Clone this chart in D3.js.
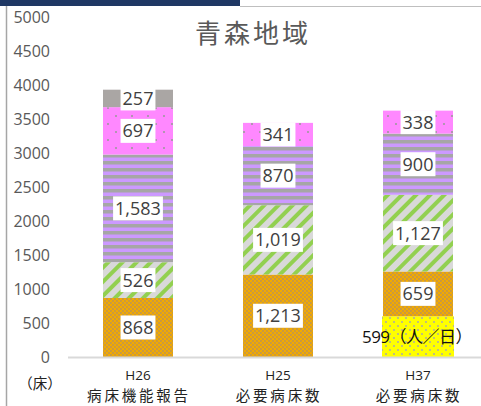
<!DOCTYPE html>
<html>
<head>
<meta charset="utf-8">
<script src="https://cdn.jsdelivr.net/npm/d3@7"></script>
<style>
  body { margin: 0; background: #fff; }
  svg { display: block; font-family: "Open Sans", "Noto Sans CJK JP", sans-serif; }
</style>
</head>
<body>
<svg id="chart" width="481" height="406"></svg>
<script>
// Data
const categories = ["H26|病床機能報告", "H25|必要病床数", "H37|必要病床数"];
const seriesKeys = ["在宅医療等", "慢性期", "回復期", "急性期", "高度急性期", "休棟等"];
const zaitaku = [0, 0, 599];
const manseiki = [868, 1213, 659];
const kaifukuki = [526, 1019, 1127];
const kyuseiki = [1583, 870, 900];
const koudo = [697, 341, 338];
const kyuto = [257, 0, 0];
const yTicks = [0, 500, 1000, 1500, 2000, 2500, 3000, 3500, 4000, 4500, 5000];

const rows = categories.map((c, i) => ({
  cat: c,
  "在宅医療等": zaitaku[i],
  "慢性期": manseiki[i],
  "回復期": kaifukuki[i],
  "急性期": kyuseiki[i],
  "高度急性期": koudo[i],
  "休棟等": kyuto[i],
}));

const svg = d3.select("#chart");

// Patterns for each series
const defs = svg.append("defs");

// orange with dense grey dots
const pOrange = defs.append("pattern").attr("id", "p-orange")
  .attr("patternUnits", "userSpaceOnUse").attr("width", 4).attr("height", 4);
pOrange.append("rect").attr("width", 4).attr("height", 4).attr("fill", "#f2aa00");
pOrange.append("circle").attr("cx", 1).attr("cy", 1).attr("r", 0.9).attr("fill", "#b8925a");
pOrange.append("circle").attr("cx", 3).attr("cy", 3).attr("r", 0.9).attr("fill", "#b8925a");

// green diagonal stripes on light grey
const pGreen = defs.append("pattern").attr("id", "p-green")
  .attr("patternUnits", "userSpaceOnUse").attr("width", 10).attr("height", 10)
  .attr("patternTransform", "rotate(45)");
pGreen.append("rect").attr("width", 10).attr("height", 10).attr("fill", "#d9d9d9");
pGreen.append("rect").attr("x", 0).attr("width", 4).attr("height", 10).attr("fill", "#92d050");

// purple / grey horizontal stripes
const pPurple = defs.append("pattern").attr("id", "p-purple")
  .attr("patternUnits", "userSpaceOnUse").attr("width", 8).attr("height", 7);
pPurple.append("rect").attr("width", 8).attr("height", 7).attr("fill", "#cc99ff");
pPurple.append("rect").attr("y", 0).attr("width", 8).attr("height", 3.5).attr("fill", "#a6a6a6");

// pink with sparse grey dots
const pPink = defs.append("pattern").attr("id", "p-pink")
  .attr("patternUnits", "userSpaceOnUse").attr("width", 16).attr("height", 16);
pPink.append("rect").attr("width", 16).attr("height", 16).attr("fill", "#ff88ff");
pPink.append("circle").attr("cx", 4).attr("cy", 4).attr("r", 1).attr("fill", "#999");
pPink.append("circle").attr("cx", 12).attr("cy", 12).attr("r", 1).attr("fill", "#999");

// yellow with grey dots
const pYellow = defs.append("pattern").attr("id", "p-yellow")
  .attr("patternUnits", "userSpaceOnUse").attr("width", 8).attr("height", 8);
pYellow.append("rect").attr("width", 8).attr("height", 8).attr("fill", "#ffff00");
pYellow.append("circle").attr("cx", 2).attr("cy", 2).attr("r", 1).attr("fill", "#aaa");
pYellow.append("circle").attr("cx", 6).attr("cy", 6).attr("r", 1).attr("fill", "#aaa");

const fillMap = {
  "在宅医療等": "url(#p-yellow)",
  "慢性期": "url(#p-orange)",
  "回復期": "url(#p-green)",
  "急性期": "url(#p-purple)",
  "高度急性期": "url(#p-pink)",
  "休棟等": "#aaa6a4",
};

// frame and top banner
svg.append("rect").attr("x", 0).attr("y", 0).attr("width", 240).attr("height", 6).attr("fill", "#1f3864");
svg.append("line").attr("x1", 240).attr("x2", 481).attr("y1", 6.5).attr("y2", 6.5)
  .attr("stroke", "#bfbfbf").attr("stroke-width", 1);
svg.append("line").attr("x1", 6.5).attr("x2", 6.5).attr("y1", 6).attr("y2", 406)
  .attr("stroke", "#a6a6a6").attr("stroke-width", 1.5);

// scales
const x = d3.scaleBand().domain(categories).range([68, 488]).paddingInner(0.5).paddingOuter(0.25);
const y = d3.scaleLinear().domain([0, 5000]).range([357, 17]);

// title
svg.append("text").attr("x", 253).attr("y", 43).attr("text-anchor", "middle")
  .attr("font-family", "'Noto Sans CJK JP'").attr("font-size", 26).attr("fill", "#595959")
  .attr("letter-spacing", 3)
  .text("青森地域");

// y tick labels
svg.append("g").selectAll("text").data(yTicks).join("text")
  .attr("x", 50).attr("y", (d) => y(d)).attr("dy", "0.35em")
  .attr("text-anchor", "end").attr("font-size", 16).attr("fill", "#595959")
  .text((d) => d);

svg.append("text").attr("x", 40).attr("y", 389).attr("text-anchor", "middle")
  .attr("font-family", "'Noto Sans CJK JP'").attr("font-size", 14.5).attr("fill", "#222")
  .text("（床）");

// stacked bars
const stacked = d3.stack().keys(seriesKeys)(rows);

const layers = svg.append("g").selectAll("g").data(stacked).join("g")
  .attr("fill", (d) => fillMap[d.key]);

layers.selectAll("rect").data((d) => d.filter((s) => s[1] - s[0] > 0)).join("rect")
  .attr("x", (d) => x(d.data.cat) - (d.data["在宅医療等"] && d[0] === 0 ? 1 : 0))
  .attr("width", (d) => x.bandwidth() + (d.data["在宅医療等"] && d[0] === 0 ? 2 : 0))
  .attr("y", (d) => y(d[1]))
  .attr("height", (d) => y(d[0]) - y(d[1]));

// baseline
svg.append("line").attr("x1", 68).attr("x2", 481).attr("y1", 357.5).attr("y2", 357.5)
  .attr("stroke", "#d9d9d9").attr("stroke-width", 2);

// data labels
const fmt = d3.format(",");
const labels = [];
stacked.forEach((layer) => {
  layer.forEach((s) => {
    const v = s[1] - s[0];
    if (v > 0) labels.push({ key: layer.key, v, cx: x(s.data.cat) + x.bandwidth() / 2, cy: y((s[0] + s[1]) / 2) });
  });
});

const lg = svg.append("g");
labels.forEach((d) => {
  if (d.key === "在宅医療等") {
    lg.append("text").attr("x", d.cx - 1).attr("y", d.cy).attr("dy", "0.35em")
      .attr("text-anchor", "middle").attr("font-size", 17).attr("fill", "#111")
      .attr("letter-spacing", -0.5)
      .text(fmt(d.v) + "（人／日）");
    return;
  }
  const t = lg.append("text").attr("x", d.cx).attr("y", d.cy).attr("dy", "0.36em")
    .attr("text-anchor", "middle").attr("font-size", 18).attr("fill", "#404040")
    .text(fmt(d.v));
  const bb = t.node().getBBox();
  lg.insert("rect", () => t.node())
    .attr("x", bb.x - 2).attr("y", d.cy - 12).attr("width", bb.width + 4).attr("height", 24)
    .attr("fill", "#fff");
});

// category labels
const xl = svg.append("g");
categories.forEach((c) => {
  const [l1, l2] = c.split("|");
  const cx = x(c) + x.bandwidth() / 2;
  xl.append("text").attr("x", cx).attr("y", 380).attr("text-anchor", "middle")
    .attr("font-size", 13.5).attr("fill", "#222").text(l1);
  xl.append("text").attr("x", cx + 1).attr("y", 401).attr("text-anchor", "middle")
    .attr("font-family", "'Noto Sans CJK JP'").attr("font-size", 14.5).attr("fill", "#222")
    .attr("letter-spacing", 2.8).text(l2);
});
</script>
</body>
</html>
